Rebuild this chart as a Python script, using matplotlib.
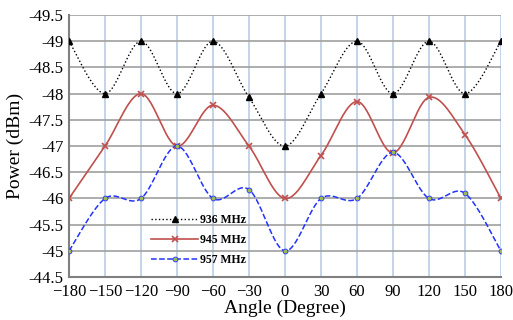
import numpy as np
import matplotlib
matplotlib.use("Agg")
import matplotlib.pyplot as plt

angles = [-180, -150, -120, -90, -60, -30, 0, 30, 60, 90, 120, 150, 180]
p936 = [-49, -48, -49, -48, -49, -47.93, -47, -48, -49, -48, -49, -48, -49]
p945 = [-46, -47, -48, -47, -47.78, -47, -46, -46.82, -47.85, -46.87, -47.93, -47.22, -46]
p957 = [-45, -46, -46, -47, -46, -46.17, -45, -46, -46, -46.88, -46, -46.1, -45]
labels = ["936 MHz", "945 MHz", "957 MHz"]


def smooth(x, y, n=30):
    # Excel-like smoothed line (Bezier with Catmull-Rom control points)
    p = np.column_stack([x, y]).astype(float)
    pts = [p[0]] + list(p) + [p[-1]]
    out = []
    for i in range(1, len(pts) - 2):
        p0, p1, p2, p3 = pts[i - 1], pts[i], pts[i + 1], pts[i + 2]
        c1 = p1 + (p2 - p0) / 6
        c2 = p2 - (p3 - p1) / 6
        t = np.linspace(0, 1, n)[:, None]
        seg = ((1 - t) ** 3) * p1 + 3 * ((1 - t) ** 2) * t * c1 + 3 * (1 - t) * t ** 2 * c2 + t ** 3 * p2
        out.append(seg if i == 1 else seg[1:])
    s = np.vstack(out)
    return s[:, 0], s[:, 1]


plt.rcParams['font.family'] = ['Liberation Serif', 'DejaVu Serif']

fig = plt.figure(figsize=(5.13, 3.2), dpi=100)
ax = fig.add_axes([0.1345, 0.134, 0.842, 0.819])

styles = [
    dict(color='black', ls=':', lw=1.0, marker='^', ms=5, mfc='black', mec='black'),
    dict(color='#C0504D', ls='-', lw=1.2, marker='x', ms=4, mfc='#C0504D', mec='#C0504D', mew=1.2),
    dict(color='#2233FF', ls='--', lw=1.1, marker='o', ms=3.5, mfc='#9BBB59', mec='#2233FF', mew=0.6),
]

for ys, lab, st in zip([p936, p945, p957], labels, styles):
    sx, sy = smooth(angles, ys)
    ax.plot(sx, sy, color=st['color'], ls=st['ls'], lw=st['lw'], zorder=3)
    ax.plot(angles, ys, ls='none', marker=st['marker'], ms=st['ms'], mfc=st['mfc'],
            mec=st['mec'], mew=st.get('mew', 1), zorder=4)
    ax.plot([], [], label=lab, color=st['color'], ls=st['ls'], lw=st['lw'],
            marker=st['marker'], ms=st['ms'], mfc=st['mfc'], mec=st['mec'], mew=st.get('mew', 1))

ax.set_xlim(-180, 180)
ax.set_ylim(-44.5, -49.5)
ax.set_xticks(angles)
ax.set_yticks(np.arange(-49.5, -44.4, 0.5))
ax.set_yticklabels(['%g' % v for v in np.arange(-49.5, -44.4, 0.5)])
ax.tick_params(labelsize=12, length=0)
ax.tick_params(axis='x', pad=5)
ax.tick_params(axis='y', pad=4)

ax.yaxis.grid(True, color='#A0A0A0', lw=1.2)
ax.xaxis.grid(True, color='#B9CDE5', lw=1.2)
ax.set_axisbelow(True)
for s in ['left', 'bottom']:
    ax.spines[s].set_color('#808080')
    ax.spines[s].set_linewidth(1.5)
for s in ['top', 'right']:
    ax.spines[s].set_visible(False)

ax.set_xlabel('Angle (Degree)', fontsize=14, labelpad=0)
ax.set_ylabel('Power (dBm)', fontsize=14, labelpad=3)

leg = ax.legend(loc='lower left', bbox_to_anchor=(0.165, 0.0), frameon=False,
                prop={'weight': 'bold', 'size': 8.5}, handlelength=4.0,
                labelspacing=0.7, handletextpad=0.2)

fig.savefig('out.png', dpi=100)
